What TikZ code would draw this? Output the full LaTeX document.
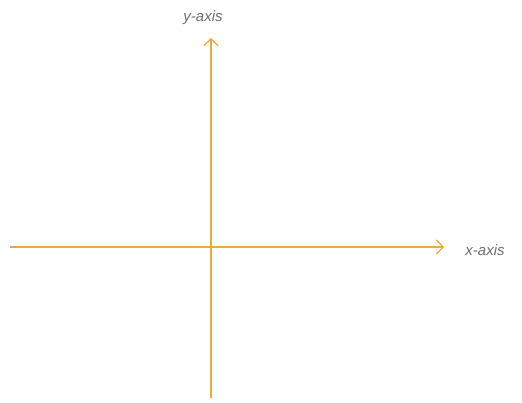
\documentclass[tikz,border=0pt]{standalone}
\usepackage{fontspec}
\setmainfont{Liberation Sans}
\usetikzlibrary{arrows.meta}
\definecolor{axiscol}{HTML}{EDAA3A}
\definecolor{labelcol}{HTML}{6E6E6E}
\tikzset{
  axisline/.style={draw=axiscol, line width=1.4pt, -{Straight Barb[length=7pt,width=14pt,line width=1.2pt]}},
  axislabel/.style={text=labelcol, font=\itshape\fontsize{15}{17}\selectfont, inner sep=0pt}
}
\begin{document}
\begin{tikzpicture}[x=1pt,y=-1pt]
\useasboundingbox (0,0) rectangle (522,403);
\coordinate (xs) at (10,247);
\coordinate (xe) at (444,247);
\coordinate (ys) at (211,398);
\coordinate (ye) at (211,38);
\draw[axisline] (xs) -- (xe);
\draw[axisline] (ys) -- (ye);
\node[axislabel] (ylab) at (203,18) {y-axis};
\node[axislabel] (xlab) at (485,250) {x-axis};
\end{tikzpicture}
\end{document}
